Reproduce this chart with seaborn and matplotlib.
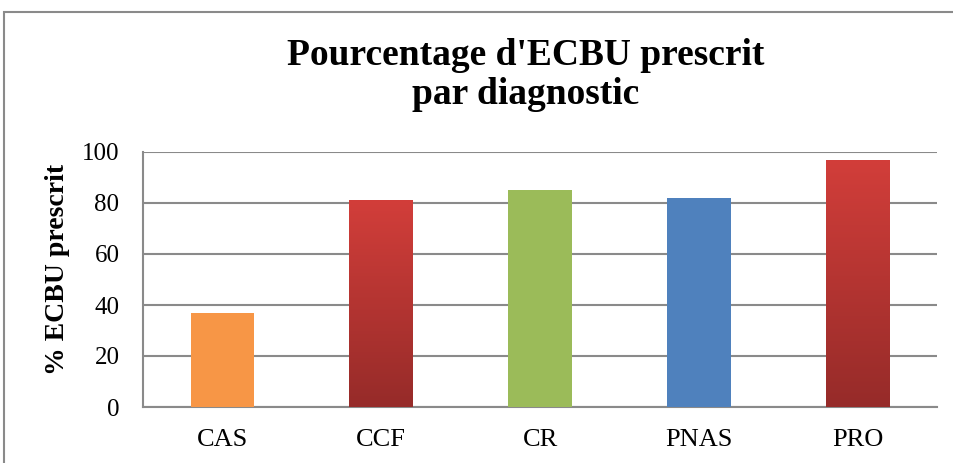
import matplotlib.pyplot as plt
import matplotlib as mpl
import seaborn as sns
import pandas as pd
import numpy as np

# donnees
categories = ['CAS', 'CCF', 'CR', 'PNAS', 'PRO']
valeurs = [37, 81, 85, 82, 97]
couleurs = ['#F79646', '#C0504D', '#9BBB59', '#4F81BD', '#C0504D']
degrade = [False, True, False, False, True]
yticks = [0, 20, 40, 60, 80, 100]

sns.set_style('white')
plt.rcParams['font.family'] = ['Liberation Serif', 'DejaVu Serif']
plt.rcParams['text.color'] = 'black'
plt.rcParams['xtick.labelcolor'] = 'black'
plt.rcParams['ytick.labelcolor'] = 'black'

df = pd.DataFrame({'diag': categories, 'pct': valeurs})

fig = plt.figure(figsize=(9.54, 4.63), dpi=100)
ax = fig.add_axes([143/954, 1-407/463, (937-143)/954, (407-152)/463])

sns.barplot(data=df, x='diag', y='pct', hue='diag', palette=dict(zip(categories, couleurs)),
            width=0.4, legend=False, saturation=1, linewidth=0, ax=ax, zorder=3)

# degrade rouge sur CCF et PRO
cmap = mpl.colors.LinearSegmentedColormap.from_list('rouge', ['#962B29', '#D23E3A'])
grad = np.linspace(0, 1, 256).reshape(-1, 1)
for patch, g in zip(ax.patches, degrade):
	if not g:
		continue
	x0, y0 = patch.get_x(), patch.get_y()
	w, h = patch.get_width(), patch.get_height()
	im = ax.imshow(grad, cmap=cmap, origin='lower', aspect='auto',
	               extent=[x0, x0 + w, y0, y0 + h], zorder=4)
	im.set_clip_path(patch)

ax.set_xlim(-0.5, 4.5)
ax.set_ylim(0, 100)
ax.set_yticks(yticks)
ax.yaxis.grid(True, color='#8A8A8A', lw=1.5, zorder=0)
ax.set_axisbelow(True)
for s in ['top', 'right']:
	ax.spines[s].set_visible(False)
for s in ['left', 'bottom']:
	ax.spines[s].set_color('#8A8A8A')
	ax.spines[s].set_linewidth(1.5)

ax.set_xticks(range(len(categories)))
ax.set_xticklabels(categories)
ax.set_xticks(np.arange(-0.5, len(categories), 1), minor=True)
ax.tick_params(axis='x', which='major', length=0, labelsize=19, pad=16)
ax.tick_params(axis='x', which='minor', length=5.8, width=1.5, color='#8A8A8A', direction='out')
ax.tick_params(axis='y', length=4.5, width=1.5, color='#8A8A8A', labelsize=18, pad=12.5)
ax.set_xlabel('')
ax.set_ylabel('')

fig.text(58/954, 1-269/463, '% ECBU prescrit', rotation=90, fontsize=20, fontweight='bold',
         ha='center', va='center')
fig.text(526/954, 1-75/463, "Pourcentage d'ECBU prescrit\npar diagnostic", fontsize=27,
         fontweight='bold', ha='center', va='center', linespacing=1.15)

# cadre du graphique
fig.patches.append(mpl.patches.Rectangle((4/954, -0.1), 1.1, 1 - 12/463 + 0.1,
                   transform=fig.transFigure, fill=False, edgecolor='#8A8A8A', lw=1.5))

fig.savefig('out.png', dpi=100)
